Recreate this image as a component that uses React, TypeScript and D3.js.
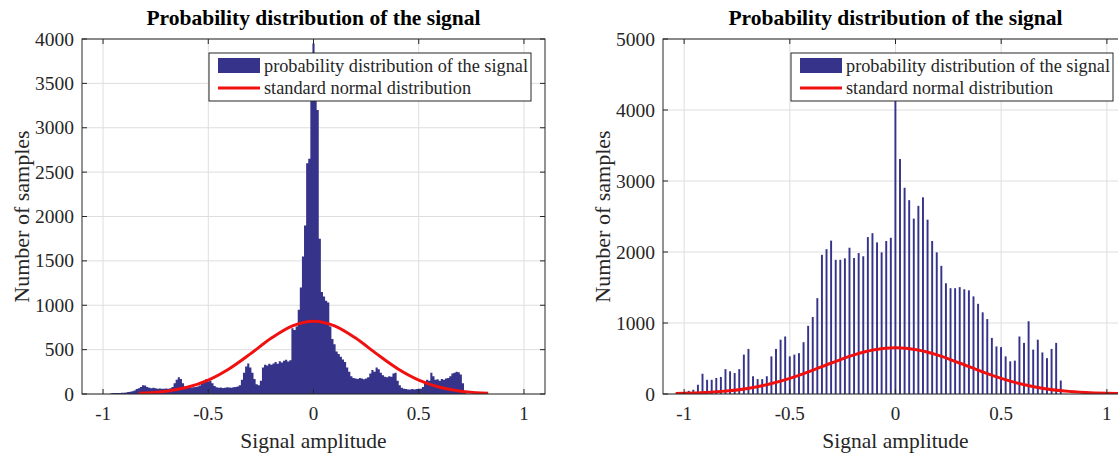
import React from "react";
import * as d3 from "d3";

// ---------- data ----------
const titleText = "Probability distribution of the signal";
const xLabelText = "Signal amplitude";
const yLabelText = "Number of samples";
const legendBarText = "probability distribution of the signal";
const legendLineText = "standard normal distribution";

const xTicks = [-1, -0.5, 0, 0.5, 1];
const xTickLabels = ["-1", "-0.5", "0", "0.5", "1"];

// left panel: fine histogram (bin centres start at -0.96, width 0.01)
const leftBinStart = -0.96;
const leftBinWidth = 0.01;
const leftCounts = [
  8, 10, 10, 12, 12, 15, 15, 18, 22, 25,
  30, 40, 55, 65, 80, 100, 95, 80, 70, 65,
  70, 65, 60, 62, 58, 60, 62, 58, 65, 80,
  120, 160, 190, 170, 120, 85, 75, 70, 72, 75,
  80, 85, 95, 120, 150, 165, 140, 150, 120, 90,
  75, 70, 72, 68, 70, 75, 72, 70, 75, 80,
  85, 100, 160, 240, 310, 345, 300, 240, 170, 110,
  100, 150, 300, 330, 320, 340, 330, 345, 360, 340,
  370, 355, 375, 385, 365, 380, 740, 720, 760, 950,
  1200, 1550, 1900, 2600, 2650, 3400, 3950, 3500, 3200, 1750,
  1150, 1100, 1050, 1030, 760, 620, 560, 480, 450, 420,
  390, 360, 300, 250, 200, 180, 175, 170, 180, 175,
  165, 175, 190, 230, 270, 250, 300, 280, 240, 210,
  195, 190, 200, 195, 230, 240, 150, 100, 70, 60,
  55, 50, 52, 55, 50, 55, 60, 58, 80, 120,
  160, 150, 240, 200, 160, 165, 150, 170, 160, 175,
  180, 200, 230, 240, 250, 245, 220, 120, 30,
];
const leftYTicks = [0, 500, 1000, 1500, 2000, 2500, 3000, 3500, 4000];
const leftCurveX = [-0.83, -0.8, -0.7, -0.6, -0.5, -0.4, -0.3, -0.2, -0.1, 0, 0.1, 0.2, 0.3, 0.4, 0.5, 0.6, 0.7, 0.8, 0.83];
const leftCurveY = [9, 12, 32, 76, 157, 285, 452, 630, 768, 820, 768, 630, 452, 285, 157, 76, 32, 12, 9];

// right panel: coarse histogram (bin centres start at -1, width 0.02173)
const rightBinStart = -1;
const rightBinWidth = 0.02173;
const rightCounts = [
  20, 45, 60, 130, 285, 200, 200, 225, 240, 350,
  320, 295, 350, 555, 635, 250, 210, 210, 250, 530,
  635, 765, 810, 530, 555, 575, 730, 960, 1085, 1350,
  1960, 2040, 2160, 1890, 1890, 1910, 2060, 1915, 1985, 1940,
  2210, 2265, 2135, 1995, 2155, 2200, 4200,
  3310, 2905, 2730, 2470, 2650, 2770, 2455, 2155, 1995, 1805,
  1560, 1490, 1490, 1505, 1475, 1460, 1375, 1270, 1150, 1055,
  790, 670, 660, 530, 460, 470, 810, 720, 1025, 625,
  765, 585, 505, 635, 720, 190,
];
const rightYTicks = [0, 1000, 2000, 3000, 4000, 5000];
const rightCurveX = [-1.04, -1.0, -0.9, -0.8, -0.7, -0.6, -0.5, -0.4, -0.3, -0.2, -0.1, 0, 0.1, 0.2, 0.3, 0.4, 0.5, 0.6, 0.7, 0.8, 0.9, 1.0, 1.1, 1.15];
const rightCurveY = [6, 9, 20, 41, 78, 137, 220, 325, 440, 547, 623, 650, 623, 547, 440, 325, 220, 137, 78, 41, 20, 9, 3, 2];

// ---------- style ----------
const BAR = "#35338a";
const RED = "#f01010";
const AXIS = "#262626";
const GRID = "#dedede";
const FONT = "'Liberation Serif', 'Times New Roman', serif";

type PanelProps = {
  left: number;
  right: number;
  top: number;
  bottom: number;
  yMax: number;
  yTicks: number[];
  counts: number[];
  binStart: number;
  binWidth: number;
  solid: boolean;
  barFrac: number;
  curveX: number[];
  curveY: number[];
  legendX: number;
  legendW: number;
  id: string;
};

function Panel(p: PanelProps) {
  const x = d3.scaleLinear().domain([-1.1, 1.1]).range([p.left, p.right]);
  const y = d3.scaleLinear().domain([0, p.yMax]).range([p.bottom, p.top]);
  const cx = (p.left + p.right) / 2;
  const bw = (x(p.binWidth) - x(0)) * p.barFrac;
  const line = d3
    .line<number>()
    .x((_, i) => x(p.curveX[i]))
    .y((d) => y(d))
    .curve(d3.curveMonotoneX);

  // solid histogram outline: two points per bin (left and right edge)
  const pts: [number, number][] = [];
  p.counts.forEach((c, i) => {
    const c0 = p.binStart + i * p.binWidth;
    pts.push([c0 - p.binWidth / 2, c]);
    pts.push([c0 + p.binWidth / 2, c]);
  });
  const area = d3
    .area<[number, number]>()
    .x((d) => x(d[0]))
    .y0(y(0))
    .y1((d) => y(d[1]));

  const tl = 5;
  const lx = p.legendX;
  const ly = 53;
  return (
    <g>
      <defs>
        <clipPath id={p.id}>
          <rect x={p.left} y={p.top} width={p.right - p.left} height={p.bottom - p.top} />
        </clipPath>
      </defs>
      {/* grid */}
      {xTicks.map((t) => (
        <line key={"gx" + t} x1={x(t)} x2={x(t)} y1={p.top} y2={p.bottom} stroke={GRID} strokeWidth={1} />
      ))}
      {p.yTicks.map((t) => (
        <line key={"gy" + t} x1={p.left} x2={p.right} y1={y(t)} y2={y(t)} stroke={GRID} strokeWidth={1} />
      ))}
      <g clipPath={`url(#${p.id})`}>
        {p.solid ? (
          <path d={area(pts) || ""} fill={BAR} />
        ) : (
          p.counts.map((c, i) => {
            const xc = x(p.binStart + i * p.binWidth);
            return <rect key={i} x={xc - bw / 2} width={bw} y={y(c)} height={y(0) - y(c)} fill={BAR} />;
          })
        )}
        <path d={line(p.curveY) || ""} fill="none" stroke={RED} strokeWidth={3} />
      </g>
      {/* box */}
      <rect x={p.left} y={p.top} width={p.right - p.left} height={p.bottom - p.top} fill="none" stroke={AXIS} strokeWidth={1} />
      {/* ticks */}
      {xTicks.map((t) => (
        <g key={"tx" + t}>
          <line x1={x(t)} x2={x(t)} y1={p.bottom} y2={p.bottom - tl} stroke={AXIS} />
          <line x1={x(t)} x2={x(t)} y1={p.top} y2={p.top + tl} stroke={AXIS} />
        </g>
      ))}
      {p.yTicks.map((t) => (
        <g key={"ty" + t}>
          <line x1={p.left} x2={p.left + tl} y1={y(t)} y2={y(t)} stroke={AXIS} />
          <line x1={p.right} x2={p.right - tl} y1={y(t)} y2={y(t)} stroke={AXIS} />
        </g>
      ))}
      {/* tick labels */}
      {xTicks.map((t, i) => (
        <text key={"lx" + t} x={x(t)} y={p.bottom + 26} textAnchor="middle" fontFamily={FONT} fontSize={19} fill={AXIS}>
          {xTickLabels[i]}
        </text>
      ))}
      {p.yTicks.map((t) => (
        <text key={"ly" + t} x={p.left - 8} y={y(t) + 6.5} textAnchor="end" fontFamily={FONT} fontSize={19.5} fill={AXIS}>
          {t}
        </text>
      ))}
      {/* title + labels */}
      <text x={cx} y={25} textAnchor="middle" fontFamily={FONT} fontWeight="bold" fontSize={21.5} fill="#000">
        {titleText}
      </text>
      <text x={cx} y={448} textAnchor="middle" fontFamily={FONT} fontSize={21.5} fill={AXIS}>
        {xLabelText}
      </text>
      <text
        transform={`translate(${p.left - 53},${(p.top + p.bottom) / 2}) rotate(-90)`}
        textAnchor="middle"
        fontFamily={FONT}
        fontSize={22}
        fill={AXIS}
      >
        {yLabelText}
      </text>
      {/* legend */}
      <rect x={lx} y={ly} width={p.legendW} height={48} fill="#fff" stroke={AXIS} strokeWidth={1} />
      <rect x={lx + 9} y={ly + 5} width={42} height={15} fill={BAR} />
      <line x1={lx + 9} x2={lx + 51} y1={ly + 35} y2={ly + 35} stroke={RED} strokeWidth={3} />
      <text x={lx + 55} y={ly + 19} fontFamily={FONT} fontSize={18.3} fill={AXIS}>
        {legendBarText}
      </text>
      <text x={lx + 55} y={ly + 41} fontFamily={FONT} fontSize={18.3} fill={AXIS}>
        {legendLineText}
      </text>
    </g>
  );
}

export default function App() {
  return (
    <svg
      width={1118}
      height={454}
      style={{ position: "absolute", left: 0, top: 0, background: "#fff" }}
    >
      <rect width={1118} height={454} fill="#fff" />
      <Panel
        id="clipL"
        left={82}
        right={545}
        top={39}
        bottom={394}
        yMax={4000}
        yTicks={leftYTicks}
        counts={leftCounts}
        binStart={leftBinStart}
        binWidth={leftBinWidth}
        solid={true}
        barFrac={1}
        curveX={leftCurveX}
        curveY={leftCurveY}
        legendX={209}
        legendW={322}
      />
      <Panel
        id="clipR"
        left={663}
        right={1128}
        top={39}
        bottom={394}
        yMax={5000}
        yTicks={rightYTicks}
        counts={rightCounts}
        binStart={rightBinStart}
        binWidth={rightBinWidth}
        solid={false}
        barFrac={0.42}
        curveX={rightCurveX}
        curveY={rightCurveY}
        legendX={791}
        legendW={322}
      />
    </svg>
  );
}
